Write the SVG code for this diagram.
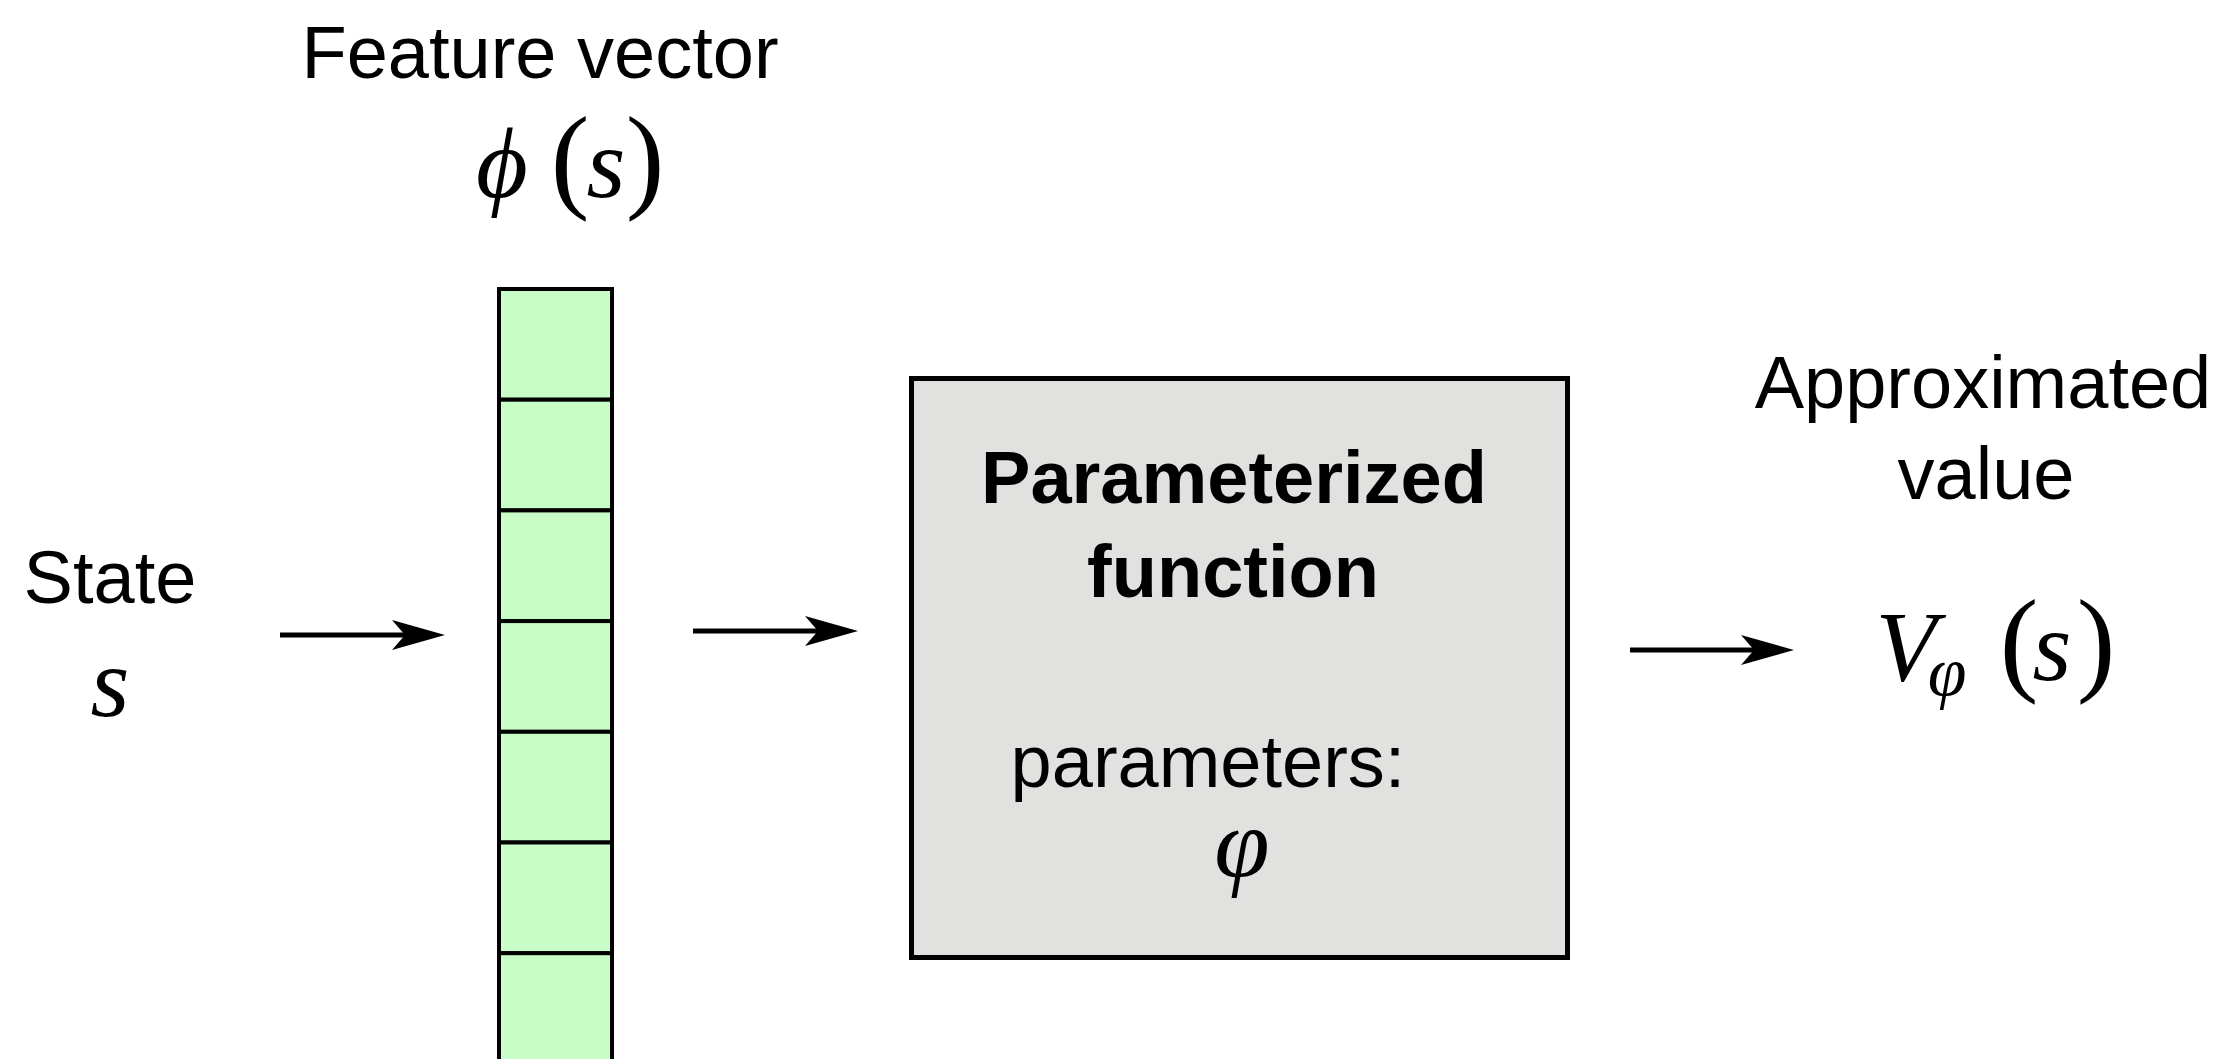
<svg xmlns="http://www.w3.org/2000/svg" width="2225" height="1059" viewBox="0 0 2225 1059">
<style>
.lbl{font-family:"Liberation Sans",Arial,sans-serif;font-size:74px;fill:#000;text-anchor:middle}
.bold{font-weight:bold}
.math{font-family:"Liberation Serif","Times New Roman","DejaVu Serif",serif;font-style:italic;fill:#000;text-anchor:middle;font-size:100px}
.paren{font-style:normal;font-size:116px}
.sub{font-size:70px}
.cell{fill:#c8fdc8;stroke:#000;stroke-width:4}
.conn{stroke:#000;stroke-width:5;fill:none}
</style>
<defs>
<marker id="ah" markerUnits="userSpaceOnUse" markerWidth="60" markerHeight="40" viewBox="0 -20 60 40" refX="23" refY="0" orient="auto">
<path d="M0,-15 L53,0 L0,15 L13,0 Z" fill="#000"/>
</marker>
</defs>
<rect width="2225" height="1059" fill="#fff"/>

<g id="state">
<text class="lbl" x="110" y="603">State</text>
<text class="math" x="110" y="716">s</text>
</g>

<g id="feature-vector">
<text class="lbl" x="540" y="78">Feature vector</text>
<text class="math" y="197"><tspan x="502">ϕ</tspan><tspan class="paren" x="570">(</tspan><tspan x="606">s</tspan><tspan class="paren" x="645">)</tspan></text>
<rect class="cell" x="499" y="289" width="113" height="110.7"/>
<rect class="cell" x="499" y="399.7" width="113" height="110.7"/>
<rect class="cell" x="499" y="510.4" width="113" height="110.7"/>
<rect class="cell" x="499" y="621.1" width="113" height="110.7"/>
<rect class="cell" x="499" y="731.8" width="113" height="110.7"/>
<rect class="cell" x="499" y="842.5" width="113" height="110.7"/>
<rect class="cell" x="499" y="953.2" width="113" height="110.7"/>
</g>

<g id="parameterized-function">
<rect x="911.5" y="378.5" width="656" height="579" fill="#e1e2e0" stroke="#000" stroke-width="5"/>
<text class="lbl bold" x="1234" y="503">Parameterized</text>
<text class="lbl bold" x="1233" y="597">function</text>
<text class="lbl"><tspan x="1208" y="787">parameters:</tspan><tspan class="math" x="1242" y="877">φ</tspan></text>
</g>

<g id="approximated-value">
<text class="lbl" x="1983" y="408">Approximated</text>
<text class="lbl" x="1986" y="499">value</text>
<text class="math" y="680"><tspan x="1906">V</tspan><tspan class="sub" x="1947" y="695">φ</tspan><tspan class="paren" x="2019" y="680">(</tspan><tspan x="2052">s</tspan><tspan class="paren" x="2096">)</tspan></text>
</g>

<g id="connectors">
<line class="conn" x1="280" y1="635" x2="415" y2="635" marker-end="url(#ah)"/>
<line class="conn" x1="693" y1="631" x2="828" y2="631" marker-end="url(#ah)"/>
<line class="conn" x1="1630" y1="650" x2="1764" y2="650" marker-end="url(#ah)"/>
</g>
</svg>
